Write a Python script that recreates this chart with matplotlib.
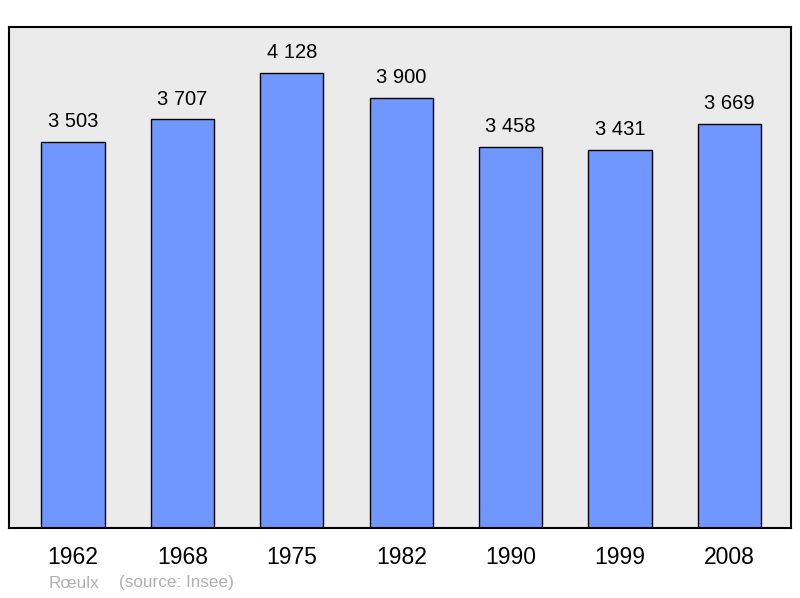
import matplotlib
matplotlib.use("Agg")
import matplotlib.pyplot as plt

years = ["1962", "1968", "1975", "1982", "1990", "1999", "2008"]
population = [3503, 3707, 4128, 3900, 3458, 3431, 3669]
value_labels = ["3 503", "3 707", "4 128", "3 900", "3 458", "3 431", "3 669"]
footer_place = "Rœulx"
footer_source = "(source: Insee)"

plt.rcParams['font.family'] = ['Liberation Sans', 'DejaVu Sans']

fig = plt.figure(figsize=(8, 5.98), dpi=100)
ax = fig.add_axes([9/800, 1-528/598, 782/800, (528-27)/598])
ax.set_facecolor('#ebebeb')
x = list(range(len(years)))
ax.bar(x, population, width=0.576, color='#7096ff', edgecolor='black', linewidth=1.0, zorder=2)
for xi, v, lab in zip(x, population, value_labels):
    ax.annotate(lab, (xi, v), xytext=(0, 7.8), textcoords='offset points',
                ha='center', va='bottom', fontsize=14.5)
ax.set_xlim(-0.585, 6.563)
ax.set_ylim(0, 4546)
ax.set_yticks([])
ax.set_xticks(x)
ax.set_xticklabels(years, fontsize=16.5)
ax.tick_params(axis='x', length=0, pad=12.7)
for s in ax.spines.values():
    s.set_linewidth(1.5)
    s.set_color('black')
fig.text(49/800, 1-583/598, footer_place, fontsize=12.3, color='#b0b0b0', va='center', ha='left')
fig.text(119/800, 1-583/598, footer_source, fontsize=12.3, color='#b0b0b0', va='center', ha='left')
fig.savefig('out.png', dpi=100)
